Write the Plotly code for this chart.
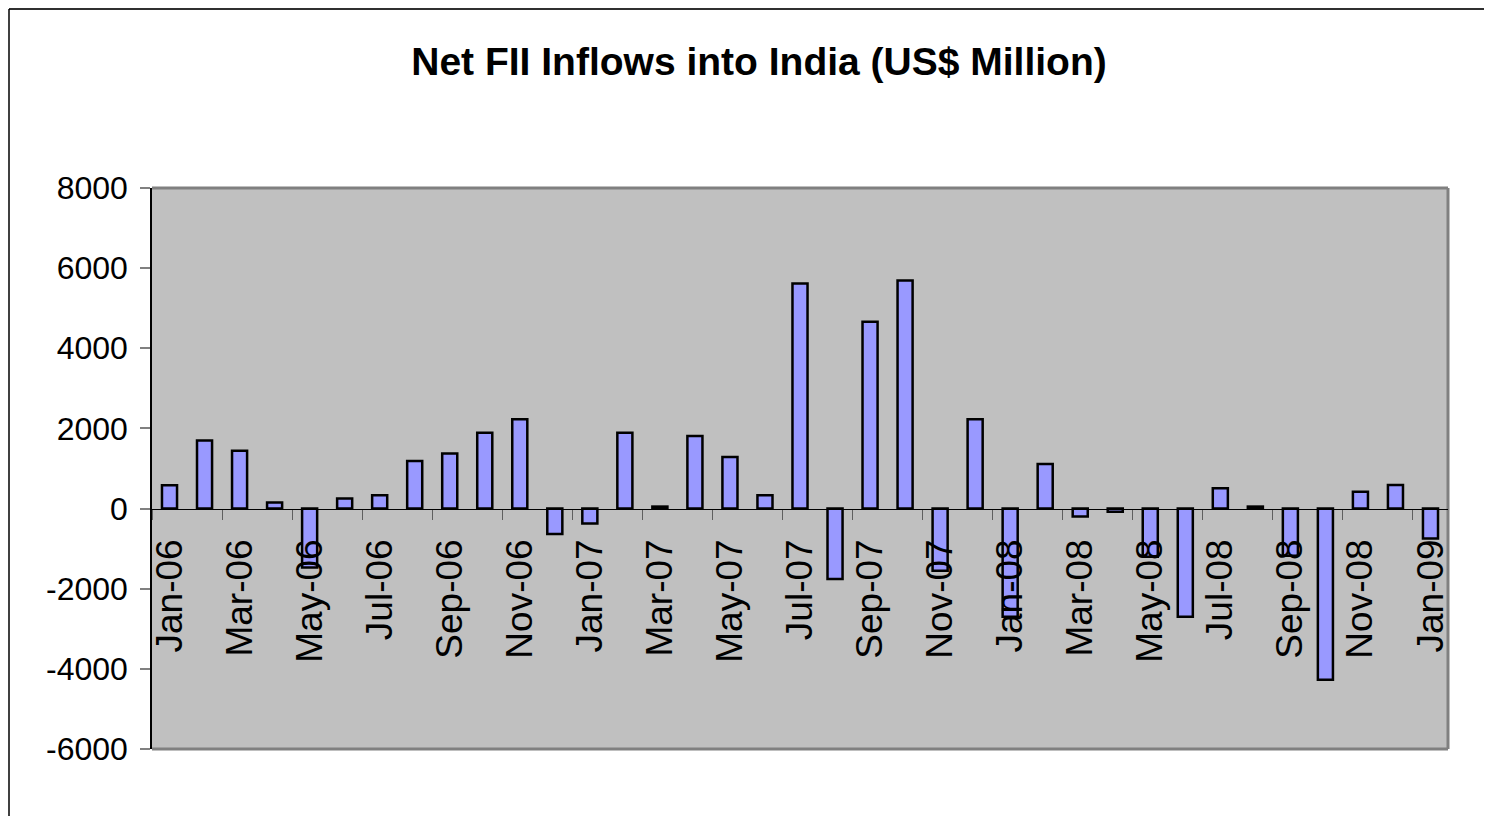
import plotly.graph_objects as go

months = ["Jan-06", "Feb-06", "Mar-06", "Apr-06", "May-06", "Jun-06", "Jul-06", "Aug-06",
          "Sep-06", "Oct-06", "Nov-06", "Dec-06", "Jan-07", "Feb-07", "Mar-07", "Apr-07",
          "May-07", "Jun-07", "Jul-07", "Aug-07", "Sep-07", "Oct-07", "Nov-07", "Dec-07",
          "Jan-08", "Feb-08", "Mar-08", "Apr-08", "May-08", "Jun-08", "Jul-08", "Aug-08",
          "Sep-08", "Oct-08", "Nov-08", "Dec-08", "Jan-09"]
net_fii = [580, 1700, 1440, 150, -1470, 250, 335, 1190,
           1375, 1890, 2230, -635, -370, 1890, 50, 1810,
           1285, 335, 5615, -1760, 4660, 5690, -1550, 2230,
           -2700, 1110, -195, -80, -1200, -2700, 505, 50,
           -1175, -4270, 420, 586, -745]
y_ticks = [8000, 6000, 4000, 2000, 0, -2000, -4000, -6000]
y_tick_text = ["8000", "6000", "4000", "2000", "0", "-2000", "-4000", "-6000"]
title_text = "Net FII Inflows into India (US$ Million)"

# page has an 8px body margin; figure is sized/offset to compensate
OFF = 8
W, H = 1492 - OFF, 816 - OFF
L, R, T, B = 152 - OFF, 44, 188 - OFF, 67
pw, ph = W - L - R, H - T - B
ymin, ymax = -6000, 8000
zero_pos = (0 - ymin) / (ymax - ymin)

def px_x(p):  # page pixel -> paper x
    return (p - OFF - L) / pw

def px_y(p):  # page pixel -> paper y
    return (H - B - (p - OFF)) / ph

FONT = "Arial, Liberation Sans, sans-serif"

fig = go.Figure()
fig.add_trace(go.Bar(
    x=months, y=net_fii,
    marker=dict(color="#9999FF", line=dict(color="black", width=2.5)),
    showlegend=False,
))

fig.update_layout(
    width=W, height=H,
    margin=dict(l=L, r=R, t=T, b=B, pad=0),
    paper_bgcolor="white",
    plot_bgcolor="#C0C0C0",
    bargap=0.57,
    title=dict(text="<b>" + title_text + "</b>", x=(759 - OFF) / W, xanchor="center",
               y=1 - (61 - OFF) / H, yanchor="middle",
               font=dict(family=FONT, size=39, color="black")),
    xaxis=dict(
        type="category", anchor="free", position=zero_pos,
        showline=True, linecolor="black", linewidth=1,
        ticks="outside", ticklen=10, tickcolor="#606060", tickwidth=1,
        tickson="boundaries", dtick=2, tickangle=-90,
        tickfont=dict(family=FONT, size=37, color="black"),
        ticklabelstandoff=15,
        showgrid=False, zeroline=False,
        range=[-0.5, len(months) - 0.5],
    ),
    yaxis=dict(
        range=[ymin, ymax],
        tickvals=y_ticks, ticktext=y_tick_text,
        showline=True, linecolor="black", linewidth=1.5,
        ticks="outside", ticklen=10, tickcolor="#808080", tickwidth=1.5,
        tickfont=dict(family=FONT, size=32, color="black"),
        ticklabelstandoff=6,
        showgrid=False, zeroline=False,
    ),
    shapes=[
        dict(type="line", xref="paper", yref="paper", x0=0, x1=1, y0=1, y1=1,
             line=dict(color="#808080", width=3), layer="below"),
        dict(type="line", xref="paper", yref="paper", x0=1, x1=1, y0=0, y1=1,
             line=dict(color="#808080", width=3), layer="below"),
        dict(type="line", xref="paper", yref="paper", x0=0, x1=1, y0=0, y1=0,
             line=dict(color="#808080", width=3), layer="below"),
        # outer chart border
        dict(type="line", xref="paper", yref="paper", x0=px_x(9), x1=px_x(1500),
             y0=px_y(9), y1=px_y(9), line=dict(color="#303030", width=2)),
        dict(type="line", xref="paper", yref="paper", x0=px_x(9), x1=px_x(9),
             y0=px_y(9), y1=px_y(830), line=dict(color="black", width=1.5)),
    ],
)

fig.write_html("out.html")
